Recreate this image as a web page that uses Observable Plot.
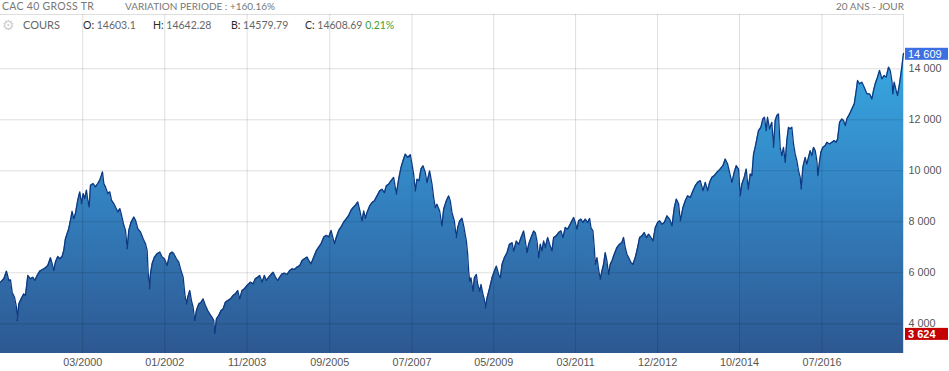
<!DOCTYPE html>
<html>
<head>
<meta charset="utf-8">
<script src="https://cdn.jsdelivr.net/npm/d3@7"></script>
<script src="https://cdn.jsdelivr.net/npm/@observablehq/plot@0.6"></script>
<style>
  html, body { margin: 0; padding: 0; background: #fff; }
  #wrap { position: relative; width: 949px; height: 371px; overflow: hidden; }
</style>
</head>
<body>
<svg width="0" height="0" style="position:absolute">
  <defs>
    <linearGradient id="areaGrad" x1="0" y1="0" x2="0" y2="1">
      <stop offset="0" stop-color="#37a9e3"/>
      <stop offset="0.5" stop-color="#3380bf"/>
      <stop offset="1" stop-color="#2d5891"/>
    </linearGradient>
  </defs>
</svg>
<div id="wrap"></div>
<script>
// ---- Header texts ----
const titleText = "CAC 40 GROSS TR";
const variationText = "VARIATION PERIODE : +160.16%";
const periodText = "20 ANS - JOUR";
const seriesName = "COURS";
const ohlcKeys = ["O:", "H:", "B:", "C:"];
const ohlcValues = ["14603.1", "14642.28", "14579.79", "14608.69"];
const changeText = "0.21%";

// ---- Axis ticks ----
const yTicks = [4000, 6000, 8000, 10000, 12000, 14000];
const xTickYears = [2000.186, 2001.996, 2003.815, 2005.638, 2007.456, 2009.257, 2011.067, 2012.877, 2014.686, 2016.505];
const xTickLabels = ["03/2000", "01/2002", "11/2003", "09/2005", "07/2007", "05/2009", "03/2011", "12/2012", "10/2014", "07/2016"];

// ---- Series (decimal year, close) ----
const years = [
1998.370,1998.444,1998.502,1998.554,1998.591,1998.627,1998.679,1998.723,1998.738,1998.775,
1998.826,1998.885,1998.922,1998.973,1999.032,1999.084,1999.128,1999.179,1999.238,1999.290,
1999.363,1999.415,1999.474,1999.510,1999.547,1999.584,1999.635,1999.680,1999.731,1999.768,
1999.805,1999.878,1999.930,1999.952,1999.989,2000.025,2000.077,2000.121,2000.158,2000.195,
2000.231,2000.268,2000.298,2000.327,2000.357,2000.415,2000.467,2000.518,2000.562,2000.599,
2000.621,2000.651,2000.687,2000.739,2000.783,2000.820,2000.871,2000.908,2000.960,2001.004,
2001.033,2001.092,2001.129,2001.166,2001.202,2001.254,2001.313,2001.350,2001.401,2001.460,
2001.519,2001.570,2001.607,2001.629,2001.659,2001.681,2001.717,2001.769,2001.828,2001.887,
2001.938,2001.990,2002.049,2002.107,2002.159,2002.196,2002.254,2002.306,
2002.343,2002.402,2002.439,2002.475,2002.505,2002.549,2002.586,2002.623,2002.659,2002.696,
2002.748,2002.799,2002.843,2002.895,2002.946,2002.990,2003.042,2003.079,2003.101,2003.138,
2003.189,2003.241,2003.285,2003.336,2003.388,2003.447,2003.505,2003.557,2003.608,2003.653,
2003.704,2003.756,2003.814,2003.888,2003.947,2003.998,2004.050,2004.094,2004.145,2004.197,
2004.241,2004.293,2004.344,2004.388,2004.440,2004.491,2004.535,2004.587,2004.638,2004.697,
2004.756,2004.807,2004.859,2004.918,2004.977,2005.028,2005.080,2005.139,2005.175,2005.227,
2005.286,2005.345,2005.396,2005.448,2005.507,2005.565,2005.617,2005.668,2005.713,2005.742,
2005.786,2005.838,2005.889,2005.948,2006.007,2006.058,2006.110,2006.154,2006.205,2006.257,
2006.301,
2006.352,2006.389,2006.425,2006.462,2006.521,2006.573,2006.624,2006.683,2006.742,
2006.793,2006.845,2006.889,2006.940,2006.992,2007.051,2007.087,2007.110,2007.161,2007.213,
2007.257,2007.308,2007.360,2007.419,2007.455,2007.492,2007.529,2007.566,2007.610,2007.654,
2007.698,2007.750,2007.786,2007.845,2007.897,2007.934,2007.970,2008.007,2008.066,2008.117,
2008.154,2008.213,2008.265,2008.301,2008.338,2008.390,2008.434,2008.463,2008.507,2008.559,
2008.596,2008.655,2008.684,2008.706,2008.728,2008.757,2008.802,2008.831,2008.875,2008.905,
2008.949,2008.978,2009.022,2009.052,2009.074,2009.111,2009.169,2009.221,2009.273,2009.317,
2009.368,2009.405,2009.442,2009.493,2009.552,2009.604,2009.663,2009.699,2009.758,2009.810,
2009.861,2009.920,2009.957,2009.994,2010.030,2010.082,2010.141,2010.177,2010.214,2010.251,
2010.288,2010.325,2010.362,2010.398,2010.450,2010.494,2010.545,2010.582,2010.641,2010.693,
2010.744,2010.788,2010.840,2010.891,2010.950,2010.987,2011.024,2011.060,2011.097,2011.134,
2011.186,2011.230,2011.281,2011.333,2011.377,2011.406,2011.450,2011.480,2011.502,2011.539,
2011.575,2011.612,2011.649,2011.686,2011.722,2011.759,2011.796,2011.833,2011.870,2011.921,
2011.980,2012.039,2012.090,2012.127,2012.164,2012.201,2012.238,2012.289,2012.333,2012.385,
2012.436,2012.480,2012.532,2012.583,2012.628,2012.679,2012.731,2012.775,2012.826,2012.878,
2012.922,2012.973,2013.025,2013.084,2013.143,2013.194,2013.246,2013.290,2013.341,2013.378,
2013.437,2013.488,2013.540,2013.599,2013.658,2013.709,2013.761,2013.819,2013.878,2013.930,
2013.981,2014.025,2014.077,2014.128,2014.187,2014.246,
2014.319,2014.370,2014.422,2014.466,2014.518,2014.569,2014.613,2014.665,2014.701,2014.738,
2014.790,2014.834,2014.878,2014.922,2014.959,2014.996,2015.032,2015.069,2015.106,2015.158,
2015.202,2015.238,2015.275,2015.305,2015.349,2015.400,2015.437,2015.474,2015.511,2015.547,
2015.584,2015.621,2015.658,2015.695,2015.731,2015.768,2015.805,2015.842,2015.879,2015.915,
2015.952,2015.989,2016.026,2016.048,2016.085,2016.136,2016.173,2016.210,2016.246,2016.283,
2016.320,2016.357,2016.393,2016.416,2016.445,2016.482,2016.526,2016.577,2016.614,2016.673,
2016.725,2016.776,2016.820,2016.850,2016.894,2016.945,2016.982,2017.019,2017.056,2017.115,
2017.166,2017.218,2017.262,2017.291,2017.335,2017.387,2017.438,2017.497,2017.556,2017.607,
2017.644,2017.681,2017.732,2017.777,2017.828,2017.880,2017.924,2017.975,2018.012,2018.049,
2018.071,2018.100,2018.144,2018.174,2018.218,2018.269,2018.306
];
const closes = [
5633,5764,6066,5698,5724,5239,5042,4649,4124,4780,
4977,5174,5108,5895,5764,5829,5698,5895,6066,6118,
6197,6288,6590,6354,6092,6419,6642,6551,6642,6879,
7338,7731,8190,8413,8124,8321,8846,9174,8715,9108,
8911,9239,8846,8583,9436,9502,9370,9502,9633,9829,
9960,9502,9370,9108,9174,8846,8715,8583,8387,8518,
8321,7862,7665,6944,7665,7993,8190,8059,7731,7600,
7338,7141,6879,6026,5370,5960,6354,6617,6747,6813,
6617,6551,6288,6747,6813,6747,6551,6419,
6158,5830,5174,4780,5043,5305,4912,4649,4124,4518,
4780,4846,4977,4715,4518,4387,4256,4124,3624,4190,
4321,4518,4584,4846,4912,4977,5108,5174,5305,4977,
5305,5371,5502,5633,5567,5764,5830,5895,5633,5895,
5698,5830,5934,6026,5830,5698,5830,5961,5987,5934,
6092,6158,6131,6223,6288,6485,6551,6616,6485,6354,
6616,6879,7010,7141,7403,7469,7403,7665,7338,7141,
7403,7665,7797,7993,8125,8256,8453,8557,8649,8780,
8453,
8033,8426,8138,8361,8623,8754,8820,9016,9213,
9279,9148,9410,9475,9607,9738,9344,9082,9672,10131,
10393,10656,10525,10630,10262,9869,9213,9672,9607,10066,
10197,9934,9541,10000,9475,8951,8557,8689,8426,7836,
8492,8820,9016,8820,8361,8033,7377,7770,8033,8138,
7836,7246,6721,6066,5672,5803,5278,5803,5934,5541,
5278,5541,5147,4951,4623,5016,5410,5803,6066,6262,
5934,5803,6328,6590,6787,7113,7180,6852,7246,7115,
7377,7639,7246,6787,7115,7377,7639,7574,7246,6590,
7121,6859,7252,6990,7383,7121,6859,7383,7449,7580,
7646,7383,7777,7711,7908,8039,8170,7974,7711,8039,
8105,7974,8105,7974,8131,7777,7646,6990,6334,6597,
6137,5744,6072,6334,6793,6465,5941,6334,6465,6728,
6990,7121,7187,7383,6990,6728,6597,6400,6334,6597,
6990,7383,7449,7580,7383,7515,7383,7252,7777,7974,
8039,7908,7974,8236,8105,7842,8564,8891,8695,8039,
8564,8826,9023,8957,9220,9417,9547,9613,9220,9547,
9220,9547,9744,9810,9941,10046,
10201,10463,10266,9939,9546,9939,10201,10070,9022,9480,
9743,10070,9284,9874,9808,10660,10922,11249,11577,11707,
12035,12100,11577,12100,11642,11904,10922,11970,12166,12232,
10922,10594,10922,10332,11184,11707,11642,11707,11053,10660,
10398,10004,9743,9284,10136,10528,10266,10528,10790,10594,
10922,10790,10398,9808,10266,10725,10922,10987,11118,11053,
11118,11184,11118,11249,11904,12035,11970,11773,12035,12231,
12428,12624,13149,13542,13411,13476,13280,13018,13018,12821,
13149,13411,13672,13935,13607,13738,13672,14066,13935,13542,
13018,13476,13149,12952,13411,14066,14609
];

// ---- helpers ----
function ydate(y) {
  const yr = Math.floor(y);
  const s = Date.UTC(yr, 0, 1), e = Date.UTC(yr + 1, 0, 1);
  return new Date(s + (y - yr) * (e - s));
}
const n = Math.min(years.length, closes.length);
const data = d3.range(n).map(i => ({date: ydate(years[i]), close: closes[i]}));
const xTickDates = xTickYears.map(ydate);
const spaceFmt = v => d3.format(",")(v).replace(/,/g, " ");
const tickLabel = d => {
  const i = xTickDates.findIndex(t => Math.abs(+t - +d) < 1000);
  return i >= 0 ? xTickLabels[i] : "";
};
const yMin = 2835, yMax = 16130;
const firstDate = data[0].date, lastDate = data[n - 1].date;
const gridStyle = {stroke: "#000", strokeOpacity: 0.13, strokeWidth: 1};

const chart = Plot.plot({
  width: 949,
  height: 371,
  marginLeft: 0,
  marginRight: 46,
  marginTop: 14,
  marginBottom: 18,
  style: {fontFamily: "'Liberation Sans', Arial, sans-serif", fontSize: "10.8px", color: "#555", background: "transparent", overflow: "visible"},
  x: {type: "utc", domain: [firstDate, lastDate], ticks: xTickDates, tickFormat: tickLabel, tickSize: 0, tickPadding: 5, label: null},
  y: {domain: [yMin, yMax], axis: "right", ticks: yTicks, tickFormat: spaceFmt, tickSize: 0, tickPadding: 5, label: null},
  marks: [
    Plot.areaY(data, {x: "date", y1: yMin, y2: "close", fill: "url(#areaGrad)"}),
    Plot.ruleY(yTicks, gridStyle),
    Plot.ruleX(xTickDates, gridStyle),
    Plot.ruleY([yMax], gridStyle),
    Plot.ruleX([lastDate], gridStyle),
    Plot.lineY(data, {x: "date", y: "close", stroke: "#0d3a82", strokeWidth: 1.3})
  ]
});
document.getElementById("wrap").appendChild(chart);

// ---- value tags (last & min) using the plot's own y scale ----
const svg = d3.select(chart);
const ys = chart.scale("y");
const lastVal = closes[n - 1];
const minVal = d3.min(closes.slice(0, n));
function tag(v, fill, bold) {
  const yv = ys.apply(v);
  const g = svg.append("g").attr("text-anchor", "start");
  g.append("rect").attr("x", 905).attr("y", yv - 5).attr("width", 43).attr("height", 12).attr("fill", fill);
  g.append("text").attr("x", 908).attr("y", yv + 5).attr("fill", "#fff").attr("text-anchor", "start")
    .attr("font-family", "'Liberation Sans', Arial, sans-serif").attr("font-size", "11px")
    .attr("font-weight", bold ? "bold" : "normal").text(spaceFmt(v));
}
tag(lastVal, "#3b6fe2", false);
tag(minVal, "#c40000", true);

// ---- header ----
const hdr = svg.append("g").attr("font-family", "Lato, 'Open Sans', sans-serif").attr("text-anchor", "start");
hdr.append("text").attr("x", 2).attr("y", 10).attr("font-size", "10.5px").attr("letter-spacing", "0.3px").attr("fill", "#777").attr("text-anchor", "start").text(titleText);
hdr.append("text").attr("x", 125).attr("y", 10).attr("font-size", "10px").attr("fill", "#777").attr("text-anchor", "start").text(variationText);
hdr.append("text").attr("x", 904).attr("y", 10).attr("font-size", "10px").attr("fill", "#777").attr("text-anchor", "end").text(periodText);
hdr.append("text").attr("x", 2).attr("y", 30).attr("font-size", "14px").attr("font-family", "'DejaVu Sans'").attr("fill", "#cfcfcf").attr("text-anchor", "start").text("\u2699");
hdr.append("text").attr("x", 23).attr("y", 29).attr("font-size", "11px").attr("fill", "#666").attr("text-anchor", "start").text(seriesName);
const ohlcX = [83, 153, 231, 305];
ohlcKeys.forEach((k, i) => {
  const t = hdr.append("text").attr("x", ohlcX[i]).attr("y", 29).attr("font-size", "10.5px").attr("text-anchor", "start");
  t.append("tspan").attr("fill", "#2a2a2a").text(k);
  t.append("tspan").attr("fill", "#666").text(" " + ohlcValues[i]);
  if (i === 3) t.append("tspan").attr("fill", "#3f9e3a").text(" " + changeText);
});
</script>
</body>
</html>
